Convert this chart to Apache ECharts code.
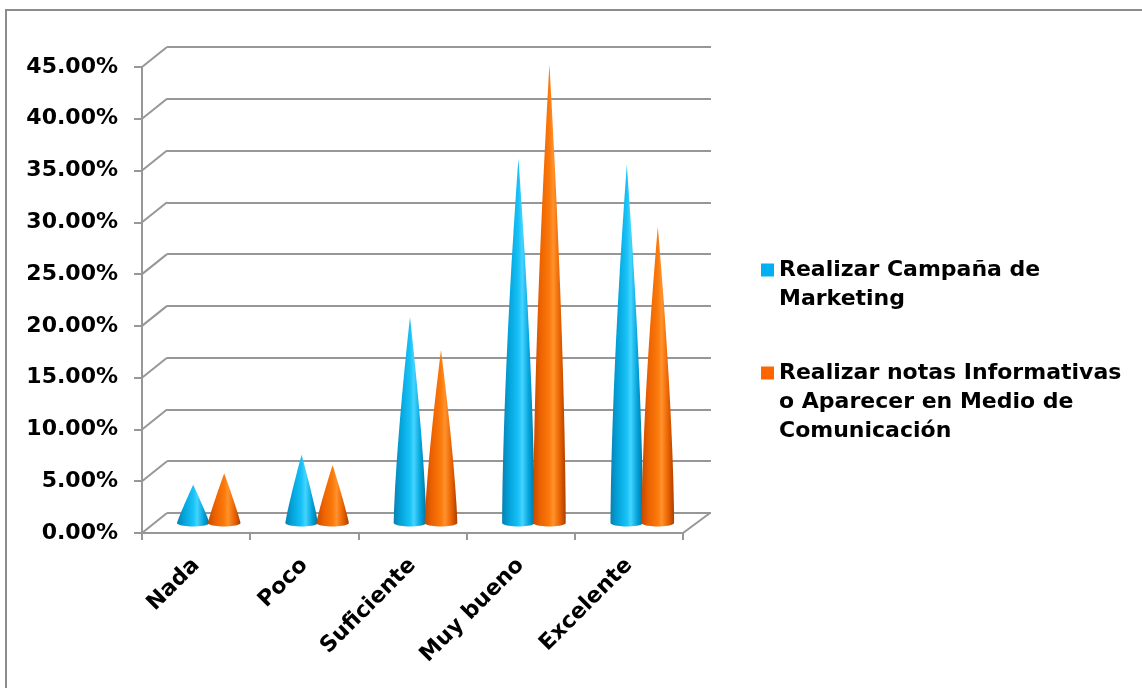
<!DOCTYPE html>
<html>
<head>
<meta charset="utf-8">
<script src="https://cdn.jsdelivr.net/npm/echarts@6/dist/echarts.min.js"></script>
<style>
  html, body { margin: 0; padding: 0; background: #ffffff; }
  #chart { width: 1142px; height: 688px; }
</style>
</head>
<body>
<div id="chart"></div>
<script>
// Survey answers per rating level (percent of respondents)
const categories = ['Nada', 'Poco', 'Suficiente', 'Muy bueno', 'Excelente'];
const seriesNames = [
  'Realizar Campaña de Marketing',
  'Realizar notas Informativas o Aparecer en Medio de Comunicación'
];
const legendLines = [
  ['Realizar Campaña de', 'Marketing'],
  ['Realizar notas Informativas', 'o Aparecer en Medio de', 'Comunicación']
];
const campana = [3.7, 6.6, 19.9, 35.2, 34.6];
const notas = [4.8, 5.6, 16.7, 44.3, 28.6];
const yTicks = [0, 5, 10, 15, 20, 25, 30, 35, 40, 45];

const FONT = 'DejaVu Sans';
const LINE = '#979797';
const DEPTH_X = 25, DEPTH_Y = -20;      // front plane -> back wall offset
const CONE_HALF = 16.3, CONE_RY = 3.5;  // cone base half width / base ellipse radius

const blueStops = [
  { offset: 0, color: '#0a80b2' },
  { offset: 0.22, color: '#03a4dc' },
  { offset: 0.5, color: '#18c2f6' },
  { offset: 0.62, color: '#45d4ff' },
  { offset: 0.82, color: '#02a4dc' },
  { offset: 1, color: '#066f98' }
];
const orangeStops = [
  { offset: 0, color: '#c64a00' },
  { offset: 0.22, color: '#ec6200' },
  { offset: 0.5, color: '#fb7a0c' },
  { offset: 0.62, color: '#ff922c' },
  { offset: 0.82, color: '#ea6200' },
  { offset: 1, color: '#aa3f00' }
];

// Half width at fraction f of the height (from the tip); tall cones get fuller flanks
function coneWidth(f, h) {
  const bulge = 1 + 0.6 * Math.min(1, h / 320);
  return CONE_HALF * (1 - Math.pow(1 - f, bulge));
}

// Cone standing on the floor at mid depth; slot shifts it within its category band
function coneRenderer(slot, stops) {
  return function (params, api) {
    const i = api.value(0), v = api.value(1);
    const band = api.size([1, 0])[0];
    const base = api.coord([i, 0]);
    const tip = api.coord([i, v]);
    const cx = base[0] + slot * band * 0.143;
    const h = base[1] - tip[1];
    const N = 30;
    const pts = [];
    for (let j = 0; j <= N; j++) {
      const f = j / N;
      pts.push([cx - coneWidth(f, h), tip[1] + f * h]);
    }
    for (let k = 1; k < 20; k++) {
      const a = Math.PI - (k / 20) * Math.PI;
      pts.push([cx + CONE_HALF * Math.cos(a), base[1] + CONE_RY * Math.sin(a)]);
    }
    for (let j = N; j >= 1; j--) {
      const f = j / N;
      pts.push([cx + coneWidth(f, h), tip[1] + f * h]);
    }
    return {
      type: 'polygon',
      shape: { points: pts },
      style: { fill: { type: 'linear', x: 0, y: 0, x2: 1, y2: 0, colorStops: stops } }
    };
  };
}

// Depth edges joining the front axis ticks to the back wall gridlines
function depthRenderer(params, api) {
  const cs = params.coordSys;
  const y = api.coord([0, api.value(1)])[1];
  const children = [{
    type: 'line',
    shape: { x1: cs.x, y1: y, x2: cs.x + DEPTH_X, y2: y + DEPTH_Y },
    style: { stroke: LINE, lineWidth: 2 }
  }];
  if (api.value(1) === 0) {
    children.push({
      type: 'line',
      shape: { x1: cs.x + cs.width, y1: y, x2: cs.x + cs.width + DEPTH_X + 2, y2: y + DEPTH_Y },
      style: { stroke: LINE, lineWidth: 2 }
    });
  }
  return { type: 'group', children: children };
}

const labelFont = { fontFamily: FONT, fontWeight: 'bold', fontSize: 22, color: '#000000' };

function legendFor(idx, top) {
  const pad = '\n'.repeat(legendLines[idx].length - 1);
  return {
    data: [seriesNames[idx]],
    left: 761,
    top: top,
    orient: 'vertical',
    icon: 'rect',
    itemWidth: 13,
    itemHeight: 13,
    padding: 0,
    selectedMode: false,
    formatter: function () { return pad + legendLines[idx].join('\n'); },
    textStyle: Object.assign({ lineHeight: 29 }, labelFont)
  };
}

const chart = echarts.init(document.getElementById('chart'), null, { renderer: 'canvas' });

chart.setOption({
  backgroundColor: '#ffffff',
  animation: false,
  graphic: [{
    type: 'rect',
    shape: { x: 6, y: 10, width: 1150, height: 700 },
    style: { fill: 'none', stroke: '#8c8c8c', lineWidth: 2 },
    z: -10
  }],
  legend: [legendFor(0, 226.5), legendFor(1, 300.5)],
  grid: [
    { left: 142, top: 67, width: 541, height: 466 },   // front plane (axes)
    { left: 167, top: 47, width: 544, height: 466 },   // back wall
    { left: 154.5, top: 57, width: 542, height: 466 }  // mid depth (cones)
  ],
  xAxis: [
    {
      gridIndex: 0, type: 'category', data: categories, boundaryGap: true,
      axisLine: { show: true, lineStyle: { color: LINE, width: 2 } },
      axisTick: { show: true, length: 7, alignWithLabel: false, lineStyle: { color: LINE, width: 2 } },
      axisLabel: Object.assign({ rotate: 45, interval: 0, margin: 29 }, labelFont),
      splitLine: { show: false }
    },
    { gridIndex: 1, type: 'category', data: categories, show: false },
    { gridIndex: 2, type: 'category', data: categories, show: false }
  ],
  yAxis: [
    {
      gridIndex: 0, type: 'value', min: 0, max: 45, interval: 5,
      axisLine: { show: true, lineStyle: { color: LINE, width: 2 } },
      axisTick: { show: true, length: 8, lineStyle: { color: LINE, width: 2 } },
      axisLabel: Object.assign({
        margin: 24, padding: [4, 0, 0, 0],
        formatter: function (v) { return v.toFixed(2) + '%'; }
      }, labelFont),
      splitLine: { show: false }
    },
    {
      gridIndex: 1, type: 'value', min: 0, max: 45, interval: 5,
      axisLine: { show: false }, axisTick: { show: false }, axisLabel: { show: false },
      splitLine: { show: true, lineStyle: { color: LINE, width: 2 } }
    },
    {
      gridIndex: 2, type: 'value', min: 0, max: 45, interval: 5, show: false,
      splitLine: { show: false }
    }
  ],
  series: [
    {
      type: 'custom', name: 'depth', silent: true,
      xAxisIndex: 0, yAxisIndex: 0,
      data: yTicks.map(function (v) { return [0, v]; }),
      encode: { x: 0, y: 1 },
      renderItem: depthRenderer, z: 1
    },
    {
      type: 'custom', name: seriesNames[0],
      xAxisIndex: 2, yAxisIndex: 2,
      itemStyle: { color: '#00b0f0' },
      data: campana.map(function (v, i) { return [i, v]; }),
      encode: { x: 0, y: 1 },
      renderItem: coneRenderer(-1, blueStops), z: 5
    },
    {
      type: 'custom', name: seriesNames[1],
      xAxisIndex: 2, yAxisIndex: 2,
      itemStyle: { color: '#ff6600' },
      data: notas.map(function (v, i) { return [i, v]; }),
      encode: { x: 0, y: 1 },
      renderItem: coneRenderer(1, orangeStops), z: 5
    }
  ]
});
</script>
</body>
</html>
